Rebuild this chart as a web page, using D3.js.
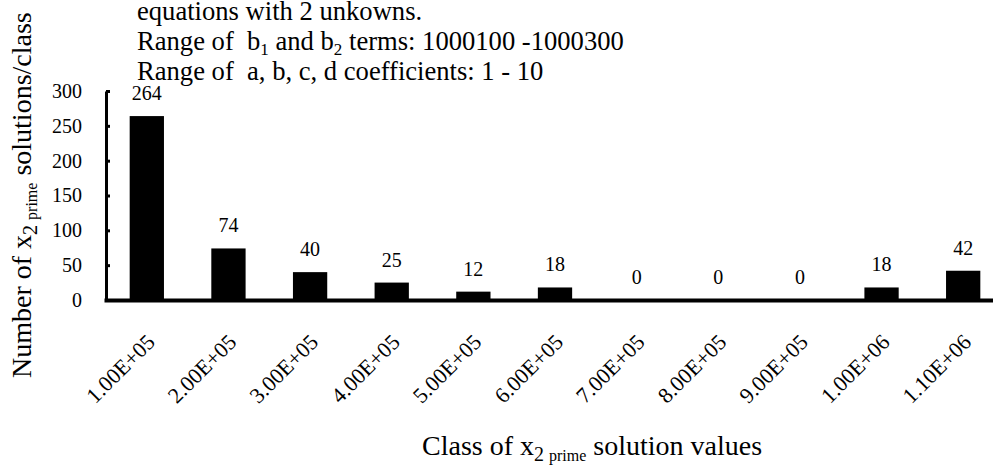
<!DOCTYPE html>
<html><head><meta charset="utf-8">
<script src="https://cdn.jsdelivr.net/npm/d3@7"></script>
<style>
body{margin:0;background:#fff;}
svg{display:block;}
text{font-family:"Liberation Serif","Times New Roman",serif;fill:#000;white-space:pre;}
</style></head>
<body>
<svg id="chart" width="993" height="467"></svg>
<script>
const categories = ["1.00E+05","2.00E+05","3.00E+05","4.00E+05","5.00E+05","6.00E+05","7.00E+05","8.00E+05","9.00E+05","1.00E+06","1.10E+06"];
const counts = [264, 74, 40, 25, 12, 18, 0, 0, 0, 18, 42];
const yTicks = [0, 50, 100, 150, 200, 250, 300];

const svg = d3.select("#chart");
const x = d3.scaleBand().domain(categories).range([106, 1004]).paddingInner(0.58).paddingOuter(0.29);
const y = d3.scaleLinear().domain([0, 300]).range([300, 91]);

// bars
svg.append("g").selectAll("rect").data(counts).join("rect")
  .attr("x", (d,i) => x(categories[i]))
  .attr("y", d => y(d))
  .attr("width", x.bandwidth())
  .attr("height", d => y(0) - y(d))
  .attr("fill", "#000");

// value labels
svg.append("g").selectAll("text").data(counts).join("text")
  .attr("x", (d,i) => x(categories[i]) + x.bandwidth()/2)
  .attr("y", d => y(d) - 16)
  .attr("text-anchor", "middle")
  .style("font-size", "20px")
  .text(d => d);

// y axis
const yAxis = d3.axisLeft(y).tickValues(yTicks).tickSizeInner(-4).tickSizeOuter(0).tickPadding(24);
const gy = svg.append("g").attr("transform", "translate(106,0)").call(yAxis);
gy.select(".domain").attr("stroke", "#000").attr("stroke-width", 3);
gy.selectAll(".tick line").attr("stroke", "#000").attr("stroke-width", 3);
gy.selectAll(".tick text").style("font-size", "20px").style("font-family", "Liberation Serif, serif");

// x axis
const xAxis = d3.axisBottom(x).tickSize(0).tickSizeOuter(0);
const gx = svg.append("g").attr("transform", "translate(0,300)").call(xAxis);
gx.select(".domain").attr("stroke", "#000").attr("stroke-width", 4).attr("d", "M104.5,0.5H1004");
gx.selectAll(".tick text")
  .style("font-size", "22px").style("font-family", "Liberation Serif, serif")
  .attr("text-anchor", "end")
  .attr("transform", "translate(4,38) rotate(-45)")
  .attr("dy", "0.35em").attr("y", 0).attr("x", 0);

// title lines
svg.append("text").attr("x", 137).attr("y", 20).style("font-size", "26.6px").text("equations with 2 unkowns.");
const t2 = svg.append("text").attr("x", 137).attr("y", 50).style("font-size", "26.6px");
t2.append("tspan").text("Range of  b");
t2.append("tspan").attr("dy", 5).style("font-size", "17px").text("1");
t2.append("tspan").attr("dy", -5).text(" and b");
t2.append("tspan").attr("dy", 5).style("font-size", "17px").text("2");
t2.append("tspan").attr("dy", -5).text(" terms: 1000100 -1000300");
svg.append("text").attr("x", 137).attr("y", 80).style("font-size", "26.6px").text("Range of  a, b, c, d coefficients: 1 - 10");

// y label
const yl = svg.append("text").attr("transform", "translate(31,378) rotate(-90)").style("font-size", "28px");
yl.append("tspan").text("Number of x");
yl.append("tspan").attr("dy", 6).style("font-size", "20px").text("2 ");
yl.append("tspan").style("font-size", "16px").text("prime");
yl.append("tspan").attr("dy", -6).text(" solutions/class");

// x label
const xl = svg.append("text").attr("x", 422).attr("y", 455).style("font-size", "28px");
xl.append("tspan").text("Class of x");
xl.append("tspan").attr("dy", 6).style("font-size", "20px").text("2 ");
xl.append("tspan").style("font-size", "16px").text("prime");
xl.append("tspan").attr("dy", -6).text(" solution values");
</script>
</body></html>
